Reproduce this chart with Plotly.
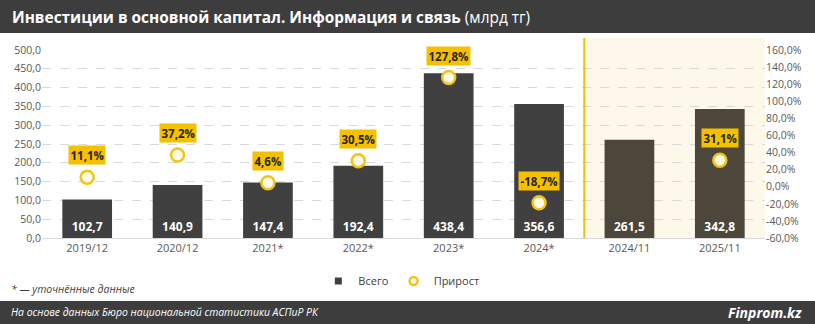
import plotly.graph_objects as go

categories = ["2019/12", "2020/12", "2021*", "2022*", "2023*", "2024*", "2024/11", "2025/11"]
total = [102.7, 140.9, 147.4, 192.4, 438.4, 356.6, 261.5, 342.8]
growth = [11.1, 37.2, 4.6, 30.5, 127.8, -18.7, None, 31.1]
left_ticks = [0, 50, 100, 150, 200, 250, 300, 350, 400, 450, 500]
right_ticks = [-60, -40, -20, 0, 20, 40, 60, 80, 100, 120, 140, 160]

W, H = 815, 324
ML, MR, MT, MB = 42, 50, 50, 86
PW, PH = W - ML - MR, H - MT - MB


def px_x(px):
    return (px - ML) / PW


def px_y(py):
    return (H - MB - py) / PH


def fmt(v):
    return f"{v:.1f}".replace(".", ",")


FONT = "Open Sans, Noto Sans, sans-serif"
DARK = "#404040"
BROWN = "#4d463a"
YEL = "#f2c318"
bar_colors = [DARK] * 6 + [BROWN] * 2

fig = go.Figure()
fig.add_trace(go.Bar(
    x=categories, y=total, name="Всего", yaxis="y", showlegend=False,
    marker=dict(color=bar_colors, line=dict(width=0)),
    width=0.55,
    text=[fmt(v) for v in total], textposition="inside", insidetextanchor="start",
    textfont=dict(color="white", size=12, family=FONT, weight="bold"),
    textangle=0, cliponaxis=False,
))
gx = [c for c, g in zip(categories, growth) if g is not None]
gy = [g for g in growth if g is not None]
fig.add_trace(go.Scatter(
    x=gx, y=gy, name="Прирост", yaxis="y2", mode="markers", showlegend=False,
    marker=dict(size=13, color="#fffbe6", line=dict(color=YEL, width=2.5)),
    cliponaxis=False,
))
# legend entries
fig.add_trace(go.Scatter(
    x=[None], y=[None], name="Всего", mode="markers",
    marker=dict(symbol="square", size=7, color=DARK),
))
fig.add_trace(go.Scatter(
    x=[None], y=[None], name="Прирост", mode="markers",
    marker=dict(size=8, color="#fffbe6", line=dict(color=YEL, width=2.5)),
))

annotations = []
for c, g in zip(gx, gy):
    annotations.append(dict(
        x=c, y=g, xref="x", yref="y2", yshift=22, showarrow=False,
        text=f"<b>{fmt(g)}%</b>", bgcolor="#f5c000", borderpad=1.5,
        font=dict(size=11.5, color="#262626", family=FONT),
    ))

annotations += [
    dict(x=px_x(10), y=px_y(17), xref="paper", yref="paper", xanchor="left", yanchor="middle",
         showarrow=False,
         text="<b>Инвестиции в основной капитал. Информация и связь</b> (млрд тг)",
         font=dict(size=15.4, color="white", family=FONT)),
    dict(x=px_x(9), y=px_y(289), xref="paper", yref="paper", xanchor="left", yanchor="middle",
         showarrow=False, text="<i>* — уточнённые данные</i>",
         font=dict(size=10.5, color="#404040", family=FONT)),
    dict(x=px_x(9), y=px_y(312), xref="paper", yref="paper", xanchor="left", yanchor="middle",
         showarrow=False, text="<i>На основе данных Бюро национальной статистики АСПиР РК</i>",
         font=dict(size=10.4, color="white", family=FONT)),
    dict(x=px_x(804), y=px_y(312), xref="paper", yref="paper", xanchor="right", yanchor="middle",
         showarrow=False, text="<b><i>Finprom.kz</i></b>",
         font=dict(size=14, color="white", family=FONT)),
]

shapes = [
    dict(type="rect", xref="x", yref="paper", x0=5.5, x1=7.5, y0=0, y1=px_y(38),
         fillcolor="#fdf8ea", line=dict(width=0), layer="below"),
    dict(type="line", xref="x", yref="paper", x0=5.5, x1=5.5, y0=0, y1=px_y(38),
         line=dict(color="#f2c000", width=2), layer="above"),
    dict(type="rect", xref="paper", yref="paper", x0=px_x(0), x1=px_x(W), y0=px_y(0), y1=px_y(33),
         fillcolor="#3d3d3d", line=dict(width=0), layer="below"),
    dict(type="rect", xref="paper", yref="paper", x0=px_x(0), x1=px_x(W), y0=px_y(301), y1=px_y(H),
         fillcolor="#3d3d3d", line=dict(width=0), layer="below"),
]

fig.update_layout(
    width=W, height=H, margin=dict(l=ML, r=MR, t=MT, b=MB),
    paper_bgcolor="white", plot_bgcolor="rgba(0,0,0,0)",
    separators=", ",
    font=dict(family=FONT, color="#595959", size=11),
    showlegend=True,
    legend=dict(orientation="h", x=0.497, xanchor="center", y=px_y(281), yanchor="middle",
                font=dict(size=11, color="#404040"), itemwidth=30, itemsizing="trace",
                traceorder="normal", bgcolor="rgba(0,0,0,0)", tracegroupgap=0),
    xaxis=dict(type="category", range=[-0.5, 7.5], showgrid=False, ticks="",
               showline=True, linecolor="#d9d9d9", linewidth=1,
               tickfont=dict(size=11, color="#595959")),
    yaxis=dict(range=[0, 500], tickvals=left_ticks, ticktext=[fmt(v) for v in left_ticks],
               showgrid=True, gridcolor="#d9d9d9", griddash="dash", gridwidth=1,
               zeroline=False, showline=False, ticks="",
               tickfont=dict(size=10.5, color="#595959")),
    yaxis2=dict(range=[-60, 160], tickvals=right_ticks, ticktext=[fmt(v) + "%" for v in right_ticks],
                overlaying="y", side="right", showgrid=False, zeroline=False, showline=False,
                ticks="", tickfont=dict(size=10.5, color="#595959")),
    annotations=annotations, shapes=shapes,
)

fig.write_html("out.html")
